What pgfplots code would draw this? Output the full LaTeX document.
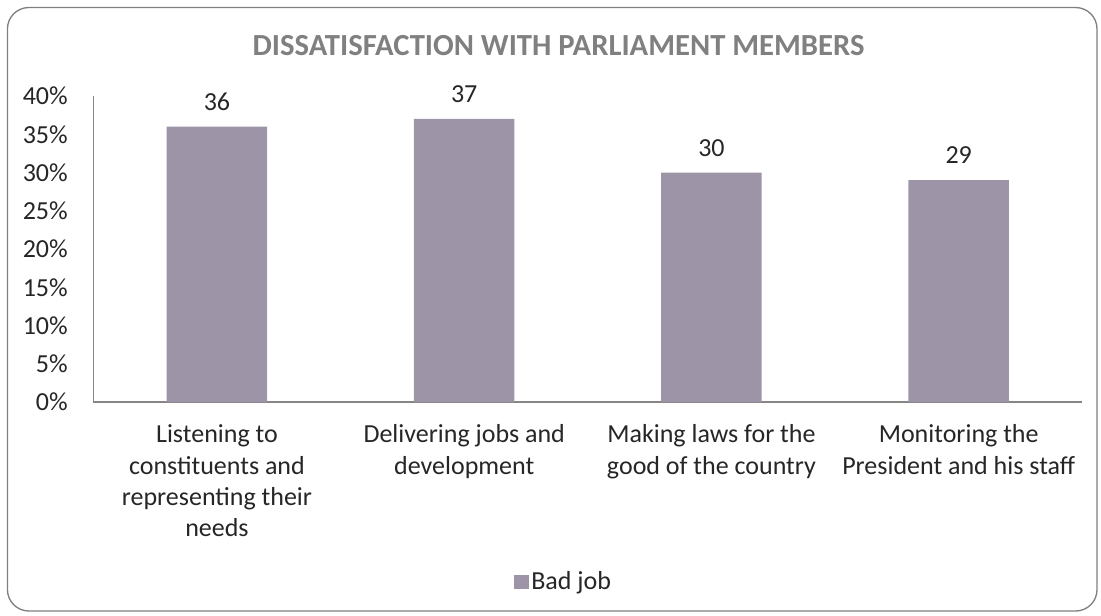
\documentclass[border=0pt]{standalone}
\usepackage{pgfplots}
\pgfplotsset{compat=1.18}
\usepackage{fontspec}
\setmainfont{Carlito}
\definecolor{barcol}{RGB}{158,148,168}
\definecolor{axcol}{RGB}{134,134,134}
\definecolor{titlecol}{RGB}{128,128,128}
\definecolor{txtcol}{RGB}{38,38,38}
\definecolor{framecol}{RGB}{128,128,128}
\begin{document}
\begin{tikzpicture}
\useasboundingbox (0,0) rectangle (825.75pt,461.25pt);
\draw[framecol, line width=1pt, rounded corners=16pt] (5.6pt,3pt) rectangle (822.75pt,455.6pt);
\node[text=titlecol, font=\bfseries\fontsize{23}{27}\selectfont] at (418.9pt,426.75pt) {DISSATISFACTION WITH PARLIAMENT MEMBERS};
\begin{axis}[
  at={(70pt,159.75pt)}, anchor=south west,
  scale only axis, width=741.75pt, height=229.5pt,
  xmin=0.5, xmax=4.5, ymin=0, ymax=40,
  /pgf/number format/assume math mode=true,
  axis lines*=left, axis line style={axcol, line width=1pt, -},
  ytick={0,5,10,15,20,25,30,35,40},
  yticklabels={0\%,5\%,10\%,15\%,20\%,25\%,30\%,35\%,40\%},
  xtick={1,2,3,4},
  xticklabels={{Listening to\\constituents and\\representing their\\needs},{Delivering jobs and\\development},{Making laws for the\\good of the country},{Monitoring the\\President and his staff}},
  major tick length=0pt,
  tick label style={font=\fontsize{19.5}{23.5}\selectfont, text=txtcol},
  yticklabel style={inner sep=0pt, anchor=east, xshift=-19pt},
  xticklabel style={align=center, anchor=north, inner sep=0pt, yshift=-17pt},
  ybar, bar width=75.4pt,
  nodes near coords,
  nodes near coords style={font=\fontsize{19.5}{23.5}\selectfont, text=txtcol, anchor=south, inner sep=0pt, yshift=12pt},
  legend style={draw=none, at={(0.4757,-0.588)}, anchor=center, font=\fontsize{19.5}{23.5}\selectfont, text=txtcol},
  legend image code/.code={\fill[barcol] (0pt,-5.5pt) rectangle (11pt,5.5pt);},
]
\addplot[fill=barcol, draw=none] coordinates {(1,36) (2,37) (3,30) (4,29)};
\addlegendentry{Bad job}
\end{axis}
\end{tikzpicture}
\end{document}
